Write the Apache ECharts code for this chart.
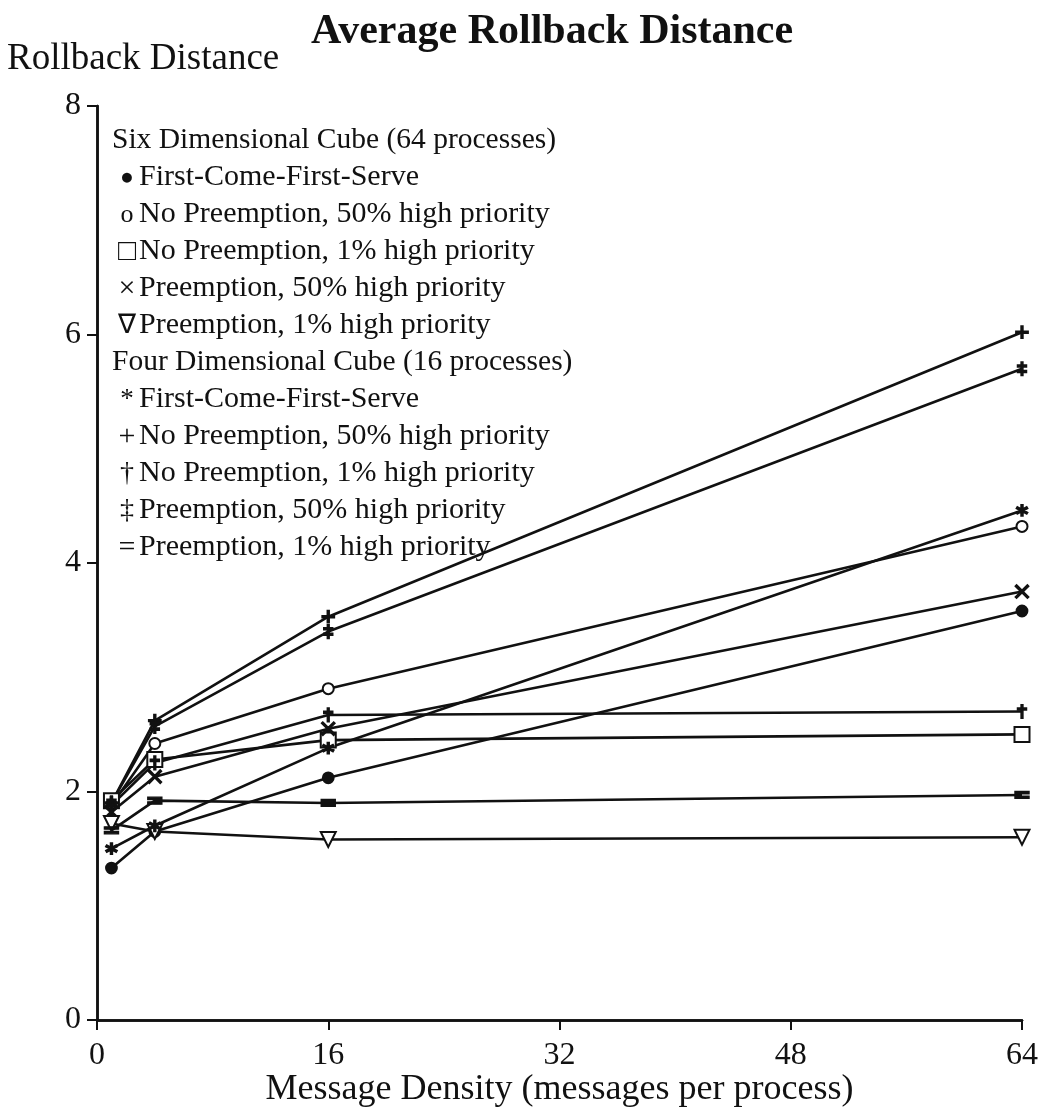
<!DOCTYPE html>
<html><head><meta charset="UTF-8">
<title>Average Rollback Distance</title>
<script src="https://cdn.jsdelivr.net/npm/echarts@6/dist/echarts.min.js"></script>
<style>*{margin:0;padding:0}body{background:#fff}#chart{width:1043px;height:1118px}</style>
</head>
<body>
<div id="chart"></div>
<script>
// message density (x) and rollback distance per series
const xValues = [1, 4, 16, 64];
const fcfs6 = [1.33, 1.65, 2.12, 3.58];
const noPre50_6 = [1.88, 2.42, 2.9, 4.32];
const noPre1_6 = [1.92, 2.28, 2.45, 2.5];
const pre50_6 = [1.82, 2.13, 2.55, 3.75];
const pre1_6 = [1.72, 1.65, 1.58, 1.6];
const fcfs4 = [1.5, 1.7, 2.38, 4.46];
const noPre50_4 = [1.9, 2.62, 3.53, 6.02];
const noPre1_4 = [1.88, 2.25, 2.67, 2.7];
const pre50_4 = [1.9, 2.57, 3.4, 5.7];
const pre1_4 = [1.66, 1.92, 1.9, 1.97];

const xTicks = [0, 16, 32, 48, 64];
const yTicks = [0, 2, 4, 6, 8];

const groupTitles = ['Six Dimensional Cube (64 processes)', 'Four Dimensional Cube (16 processes)'];
const seriesNames = [
    'First-Come-First-Serve', 'No Preemption, 50% high priority', 'No Preemption, 1% high priority',
    'Preemption, 50% high priority', 'Preemption, 1% high priority'
];
const legendChars6 = ['●', 'o', '□', '×', '∇'];
const legendChars4 = ['*', '+', '†', '‡', '='];
const legendCharSize6 = [23, 26, 30, 30, 27];
const legendCharSize4 = [27, 30, 28, 28, 30];

const FONT = '"Liberation Serif", "Times New Roman", serif';

const sym = {
    cross: 'path://M-6,-5L-5,-6L0,-1L5,-6L6,-5L1,0L6,5L5,6L0,1L-5,6L-6,5L-1,0Z',
    star: 'path://M-0.7,-5L0.7,-5L0.7,5L-0.7,5Z M-4.68,-1.89L-3.98,-3.11L4.68,1.89L3.98,3.11Z M-3.98,3.11L-4.68,1.89L3.98,-3.11L4.68,-1.89Z',
    plus: 'path://M-0.8,-6H0.8V6H-0.8Z M-6,-0.8H6V0.8H-6Z',
    dagger: 'path://M-0.8,-6H0.8V6H-0.8Z M-4,-3H4V-1.6H-4Z',
    ddagger: 'path://M-0.8,-6H0.8V6H-0.8Z M-4,-3.2H4V-1.9H-4Z M-4,1.9H4V3.2H-4Z',
    equals: 'path://M-6,-3H6V-1H-6Z M-6,1H6V3H-6Z'
};

const seriesDefs = [
    { data: fcfs6, symbol: 'circle', size: 11 },
    { data: noPre50_6, symbol: 'emptyCircle', size: 11 },
    { data: noPre1_6, symbol: 'emptyRect', size: 15 },
    { data: pre50_6, symbol: sym.cross, size: 13 },
    { data: pre1_6, symbol: 'emptyTriangle', size: 15, rotate: 180 },
    { data: fcfs4, symbol: sym.star, size: 11 },
    { data: noPre50_4, symbol: sym.plus, size: 12 },
    { data: noPre1_4, symbol: sym.dagger, size: [9, 13] },
    { data: pre50_4, symbol: sym.ddagger, size: [9, 13] },
    { data: pre1_4, symbol: sym.equals, size: [13, 7] }
];

const series = seriesDefs.map((d, i) => ({
    name: (i < 5 ? '6-' : '4-') + seriesNames[i % 5],
    type: 'line',
    data: xValues.map((x, k) => [x, d.data[k]]),
    symbol: d.symbol,
    symbolSize: d.size,
    symbolRotate: d.rotate || 0,
    showAllSymbol: true,
    clip: false,
    lineStyle: { color: '#111', width: 2.6 },
    itemStyle: { color: '#111', borderColor: '#111', borderWidth: 1.8 },
    z: 3
}));

// legend drawn as plain text lines (symbol char + label)
const legendLines = [];
const lineGap = 37;
let yy = 140;
groupTitles.forEach((g, gi) => {
    legendLines.push({ type: 'text', x: 112, y: yy, style: { text: g, font: '29.5px ' + FONT, fill: '#111', textVerticalAlign: 'middle' } });
    yy += lineGap;
    const chars = gi === 0 ? legendChars6 : legendChars4;
    const sizes = gi === 0 ? legendCharSize6 : legendCharSize4;
    seriesNames.forEach((n, i) => {
        legendLines.push({ type: 'text', x: 127, y: yy + 1, style: { text: chars[i], font: sizes[i] + 'px ' + FONT, fill: '#111', textAlign: 'center', textVerticalAlign: 'middle' } });
        legendLines.push({ type: 'text', x: 139, y: yy, style: { text: n, font: '30px ' + FONT, fill: '#111', textVerticalAlign: 'middle' } });
        yy += lineGap;
    });
});

const chart = echarts.init(document.getElementById('chart'));
chart.setOption({
    backgroundColor: '#fff',
    animation: false,
    title: [
        { text: 'Average Rollback Distance', left: 306, top: 6, textStyle: { fontFamily: FONT, fontSize: 42, fontWeight: 'bold', color: '#111' } },
        { text: 'Rollback Distance', left: 2, top: 36, textStyle: { fontFamily: FONT, fontSize: 37, fontWeight: 'normal', color: '#111' } }
    ],
    grid: { left: 97, right: 21, top: 106, bottom: 98 },
    xAxis: [{
        type: 'value', min: 0, max: 64, interval: 16,
        name: 'Message Density (messages per process)', nameLocation: 'middle', nameGap: 52,
        nameMoveOverlap: false,
        nameTextStyle: { fontFamily: FONT, fontSize: 36, color: '#111' },
        axisLine: { lineStyle: { color: '#111', width: 2.5 } },
        axisTick: { show: true, length: 9, lineStyle: { color: '#111', width: 2 } },
        axisLabel: { fontFamily: FONT, fontSize: 32, color: '#111', margin: 20,
            formatter: v => xTicks.includes(v) ? String(v) : '' },
        splitLine: { show: false }
    }, {
        type: 'value', position: 'top', min: 0, max: 64, interval: 16,
        axisLine: { lineStyle: { color: '#111', width: 2.5 } },
        axisTick: { show: true, inside: true, length: 10, lineStyle: { color: '#111', width: 2 } },
        axisLabel: { show: false }, splitLine: { show: false }
    }],
    yAxis: [{
        type: 'value', min: 0, max: 8, interval: 2,
        axisLine: { show: true, lineStyle: { color: '#111', width: 2.5 } },
        axisTick: { show: true, length: 10, lineStyle: { color: '#111', width: 2 } },
        axisLabel: { fontFamily: FONT, fontSize: 32, color: '#111', margin: 16,
            formatter: v => yTicks.includes(v) ? String(v) : '' },
        splitLine: { show: false }
    }, {
        type: 'value', position: 'right', min: 0, max: 8, interval: 2,
        axisLine: { show: true, lineStyle: { color: '#111', width: 2.5 } },
        axisTick: { show: true, inside: true, length: 10, lineStyle: { color: '#111', width: 2 } },
        axisLabel: { show: false }, splitLine: { show: false }
    }],
    graphic: legendLines,
    series: series
});
</script>
</body></html>
